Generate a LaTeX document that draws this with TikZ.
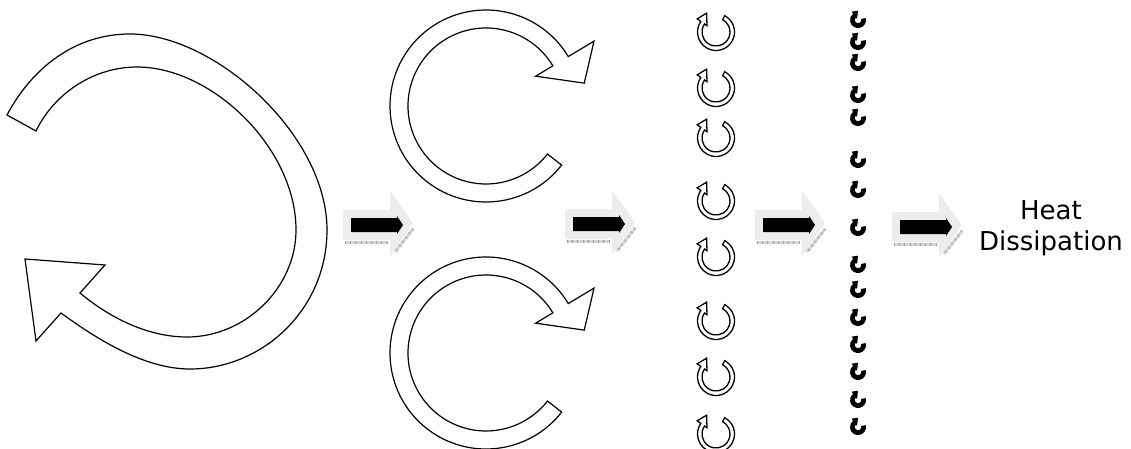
\documentclass[tikz,border=0pt]{standalone}
\usepackage{fontspec}
\setmainfont{DejaVu Sans}
\newcommand\carrow[9]{% #1 cx, #2 cy, #3 head angle, #4 sweep, #5 Ro, #6 Ri, #7 barb ext, #8 tip len, #9 style
  \begin{scope}[shift={(#1,#2)},rotate=#3,yscale=-1]
    \path[#9] (#4:#5) arc[start angle=#4,end angle=0,radius=#5]
      -- ({#5+#7},0) -- (#5,-#8) -- ({#6-#7*0.67},0) -- (#6,0)
      arc[start angle=0,end angle=#4,radius=#6] -- cycle;
  \end{scope}}
\newcommand\blockarrow[2]{% #1 x0, #2 tip y
  \begin{scope}[shift={(#1,#2)}]
    \fill[ltarrow] (0,-13) -- (47,-13) -- (47,-32) -- (70,0) -- (47,33) -- (47,17) -- (0,17) -- cycle;
    \draw[bevel] (2,19.5) -- (45,19.5);
    \draw[beveltick] (2,19.5) -- (45,19.5);
    \draw[bevel] (70,6) -- (52,29);
    \draw[beveltick] (70,6) -- (52,29);
    \fill[black] (8,-5) -- (54,-5) -- (54,-7) -- (60,2) -- (54,11) -- (54,9) -- (8,9) -- cycle;
  \end{scope}}
\begin{document}
\begin{tikzpicture}[x=1pt,y=-1pt]
\tikzset{
  outl/.style={draw=black, line width=1.2pt, fill=white, line join=miter},
  smallarr/.style={draw=black, line width=1.3pt, fill=white, line join=miter},
  tinyarr/.style={draw=black, line width=1pt, fill=black, line join=round},
  ltarrow/.style={fill={rgb,255:red,237;green,237;blue,237}},
  bevel/.style={draw={rgb,255:red,212;green,212;blue,212}, line width=3pt},
  beveltick/.style={draw={rgb,255:red,160;green,160;blue,160}, line width=3pt, dash pattern=on 0.7pt off 4.5pt},
  lbl/.style={font=\fontsize{26}{31}\selectfont, align=center, text=black},
}
\useasboundingbox (0,0) rectangle (1131,449);
\fill[white] (0,0) rectangle (1131,449);
% big arrow
\draw[outl] (7,115) .. controls (32,68) and (75,34) .. (130,34)
  .. controls (215,34) and (327,135) .. (327,230)
  .. controls (327,310) and (262,369) .. (190,369)
  .. controls (145,369) and (98,340) .. (61,313)
  -- (36,341) -- (25,259) -- (105,265) -- (80,293)
  .. controls (110,318) and (148,337) .. (187,337)
  .. controls (245,337) and (296,288) .. (296,230)
  .. controls (296,148) and (212,67) .. (137,67)
  .. controls (95,67) and (55,92) .. (36,131)
  -- cycle;
% medium arrows
\carrow{486}{106}{31}{291}{96}{78}{30}{31}{outl}
\carrow{486}{353}{31}{291}{96}{78}{30}{31}{outl}
% small arrows
\foreach \yy in {32,88,138,201,257,321,377,434}{
  \carrow{716}{\yy}{145}{277}{18.5}{14}{4.5}{10}{smallarr}
}
% tiny arrows
\foreach \yy in {20,42,63,95,118,160,190,228,265,290,318,345,372,400,427}{
  \carrow{858}{\yy}{125}{245}{7.5}{3.8}{2.2}{4.5}{tinyarr}
}
% block arrows
\blockarrow{343}{223}
\blockarrow{565}{222}
\blockarrow{755}{223}
\blockarrow{892}{225}
% label
\node[lbl] (heat) at (1051,228) {Heat\\Dissipation};
\end{tikzpicture}
\end{document}
